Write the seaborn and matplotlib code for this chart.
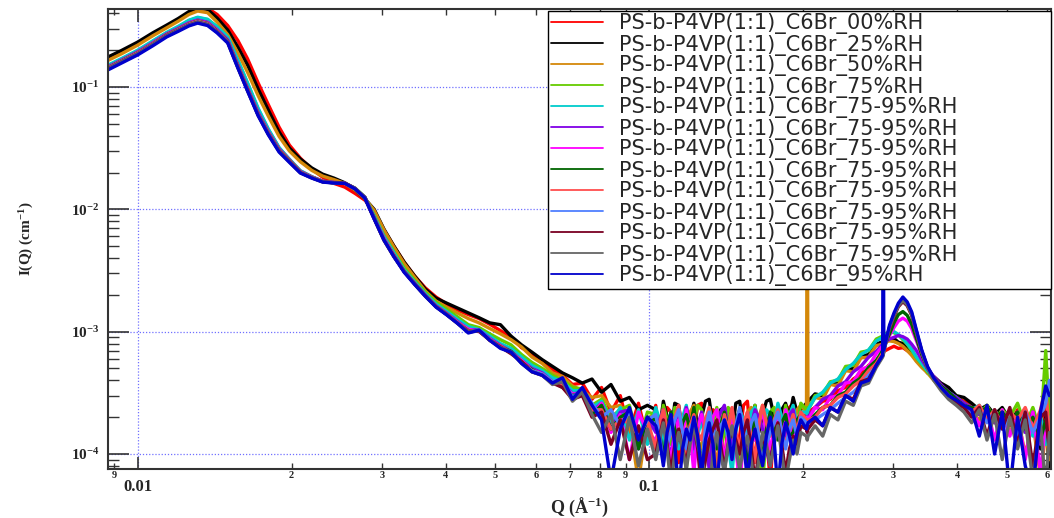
import numpy as np
import pandas as pd
import matplotlib
matplotlib.use("Agg")
import matplotlib.pyplot as plt
import matplotlib.ticker as mticker
from matplotlib.lines import Line2D
import seaborn as sns

# ---------------- data ----------------
q_lo = [0.00875, 0.0093, 0.0100, 0.0107, 0.0114, 0.0120, 0.0126, 0.0131, 0.0137, 0.0143,
        0.0150, 0.0157, 0.0164, 0.0172, 0.0180, 0.0189, 0.0198, 0.0208, 0.0219, 0.0230,
        0.0242, 0.0254, 0.0266, 0.0278, 0.0290, 0.0303, 0.0317, 0.0332, 0.0348, 0.0365,
        0.0383, 0.0402]
q_mid = [0.0422, 0.0443, 0.0465, 0.0488, 0.0512, 0.0537, 0.0563, 0.0590, 0.0618, 0.0647,
         0.0677, 0.0708, 0.0740, 0.0773, 0.0807, 0.0842, 0.0878, 0.0915, 0.0953, 0.0992]
q_flat = [0.1030, 0.1048, 0.1066, 0.1084, 0.1103, 0.1122, 0.1142, 0.1162, 0.1182, 0.1202,
          0.1223, 0.1244, 0.1266, 0.1288, 0.1310, 0.1333, 0.1356, 0.1379, 0.1403, 0.1427,
          0.1452, 0.1477, 0.1503, 0.1529, 0.1556, 0.1583, 0.1610, 0.1638, 0.1666, 0.1695,
          0.1725, 0.1755, 0.1785, 0.1816, 0.1848, 0.1880, 0.1912, 0.1945, 0.1979]
q_peak = [0.2030, 0.2037, 0.2044,
          0.2110, 0.2184, 0.2260, 0.2339, 0.2421, 0.2506, 0.2594, 0.2685, 0.2779, 0.2860, 0.2868, 0.2876,
          0.2950, 0.3010, 0.3070, 0.3133, 0.3195, 0.3260, 0.3330, 0.3410, 0.3500, 0.3600, 0.3720, 0.3850, 0.3985, 0.4125,
          0.4270, 0.4420, 0.4575, 0.4735, 0.4900, 0.5070, 0.5250, 0.5435, 0.5625, 0.5820, 0.5960, 0.6060]
Q = q_lo + q_mid + q_flat + q_peak

rh_00 = [0.168, 0.190, 0.224, 0.266, 0.310, 0.352, 0.400, 0.432, 0.440, 0.392, 0.318, 0.240, 0.170, 0.108, 0.072, 0.047,
         0.0335, 0.0262, 0.0213, 0.0183, 0.0163, 0.0152, 0.0135, 0.0119, 0.0097, 0.0068, 0.0050, 0.0037, 0.00285, 0.00228, 0.00192, 0.00168,
         1.50e-3, 1.38e-3, 1.28e-3, 1.15e-3, 1.02e-3, 9.0e-4, 7.4e-4, 6.6e-4, 5.6e-4, 4.9e-4, 4.4e-4, 3.7e-4, 3.8e-4, 2.8e-4, 3.5e-4, 2.2e-4, 3.0e-4, 1.5e-4, 2.6e-4, 1.3e-4,
         2.5e-4, 1.1e-4, 1.4e-4, 2.4e-4, 2.2e-4, 1.3e-4, 8.5e-5, 1.9e-4, 2.4e-4, 1.2e-4, 1.5e-4, 2.5e-4, 2.6e-4, 1.0e-4, 1.2e-4, 2.3e-4, 2.1e-4, 1.6e-4, 8.0e-5, 1.9e-4,
         2.3e-4, 1.1e-4, 1.4e-4, 2.5e-4, 2.7e-4, 1.3e-4, 9.0e-5, 2.0e-4, 2.2e-4, 1.4e-4, 6.0e-5, 1.7e-4, 2.4e-4, 1.3e-4, 1.6e-4, 2.4e-4, 2.6e-4, 1.5e-4, 2.0e-4,
         2.1e-4, 2.0e-4, 2.2e-4,
         2.4e-4, 2.7e-4, 2.8e-4, 3.3e-4, 3.5e-4, 4.1e-4, 4.5e-4, 5.3e-4, 5.8e-4, 6.7e-4, 6.6e-4, 6.9e-4,
         7.3e-4, 7.6e-4, 7.3e-4, 7.4e-4, 7.0e-4, 6.7e-4, 5.9e-4, 5.4e-4, 4.7e-4, 4.2e-4, 3.6e-4, 3.3e-4, 2.9e-4, 2.7e-4,
         2.5e-4, 2.1e-4, 2.4e-4, 1.9e-4, 2.2e-4, 1.7e-4, 2.3e-4, 1.6e-4, 2.1e-4, 1.3e-4, 2.4e-4, 1.5e-4]
rh_25 = [0.176, 0.199, 0.233, 0.277, 0.321, 0.363, 0.414, 0.443, 0.431, 0.366, 0.292, 0.212, 0.151, 0.0963, 0.0649, 0.0429,
         0.0317, 0.0258, 0.0218, 0.0194, 0.0180, 0.0165, 0.0144, 0.0122, 0.0100, 0.0069, 0.0050, 0.0037, 0.00285, 0.00223, 0.00188, 0.00171,
         1.56e-3, 1.42e-3, 1.30e-3, 1.18e-3, 1.14e-3, 9.2e-4, 7.8e-4, 6.8e-4, 5.9e-4, 5.2e-4, 4.6e-4, 4.2e-4, 3.8e-4, 4.1e-4, 3.2e-4, 3.7e-4, 2.7e-4, 2.9e-4, 2.3e-4, 2.5e-4,
         2.3e-4, 1.6e-4, 2.7e-4, 2.0e-4, 1.4e-4, 2.6e-4, 2.5e-4, 1.5e-4, 9.0e-5, 1.9e-4, 2.6e-4, 1.6e-4, 2.0e-4, 2.7e-4, 2.8e-4, 1.7e-4, 1.2e-4, 2.3e-4, 2.4e-4, 1.3e-4,
         1.5e-4, 2.6e-4, 2.7e-4, 1.6e-4, 8.5e-5, 2.0e-4, 2.5e-4, 1.5e-4, 2.1e-4, 2.7e-4, 2.8e-4, 2.0e-4, 1.4e-4, 2.3e-4, 2.6e-4, 2.0e-4, 2.9e-4, 2.2e-4, 2.3e-4,
         2.6e-4, 2.5e-4, 2.7e-4,
         3.1e-4, 3.0e-4, 3.8e-4, 3.9e-4, 4.9e-4, 5.0e-4, 6.3e-4, 6.5e-4, 7.9e-4, 8.3e-4, 8.2e-4, 8.5e-4,
         8.6e-4, 8.8e-4, 8.2e-4, 8.0e-4, 7.2e-4, 6.7e-4, 5.8e-4, 5.4e-4, 4.6e-4, 4.3e-4, 3.8e-4, 3.5e-4, 3.0e-4, 2.9e-4,
         2.6e-4, 2.3e-4, 2.5e-4, 2.1e-4, 2.4e-4, 1.9e-4, 2.2e-4, 1.6e-4, 2.3e-4, 1.1e-4, 2.0e-4, 7.0e-5]
rh_50 = [0.165, 0.187, 0.220, 0.262, 0.305, 0.345, 0.392, 0.418, 0.405, 0.340, 0.268, 0.190, 0.132, 0.085, 0.058, 0.0395,
         0.0300, 0.0245, 0.0208, 0.0187, 0.0175, 0.0163, 0.0144, 0.0123, 0.0098, 0.0068, 0.0049, 0.0036, 0.00278, 0.00215, 0.00178, 0.00158,
         1.42e-3, 1.28e-3, 1.18e-3, 1.06e-3, 9.6e-4, 8.6e-4, 7.5e-4, 6.2e-4, 5.5e-4, 4.6e-4, 4.3e-4, 3.6e-4, 3.3e-4, 2.9e-4, 3.0e-4, 2.4e-4, 2.5e-4, 1.8e-4, 6.0e-5, 1.9e-4,
         2.2e-4, 1.5e-4, 9.0e-5, 1.6e-4, 5.5e-5, 1.4e-4, 2.3e-4, 1.2e-4, 1.5e-4, 2.2e-4, 2.5e-4, 1.3e-4, 1.1e-4, 1.9e-4, 2.2e-4, 1.2e-4, 8.0e-5, 1.8e-4, 2.4e-4, 1.9e-4,
         1.5e-4, 1.2e-4, 6.0e-5, 1.5e-4, 2.2e-4, 2.4e-4, 1.3e-4, 2.0e-4, 2.5e-4, 1.5e-4, 9.0e-5, 1.7e-4, 2.1e-4, 1.4e-4, 2.4e-4, 2.0e-4, 1.6e-4, 2.3e-4, 2.5e-4,
         2.2e-4, 3.0e-2, 2.3e-4,
         2.9e-4, 2.8e-4, 3.7e-4, 3.6e-4, 4.8e-4, 4.7e-4, 6.1e-4, 6.2e-4, 7.7e-4, 7.9e-4, 8.1e-4, 8.2e-4,
         8.4e-4, 8.3e-4, 8.0e-4, 7.6e-4, 7.0e-4, 6.4e-4, 5.7e-4, 5.1e-4, 4.6e-4, 4.0e-4, 3.5e-4, 3.1e-4, 2.8e-4, 2.4e-4,
         2.2e-4, 1.9e-4, 2.3e-4, 1.8e-4, 2.1e-4, 1.5e-4, 2.0e-4, 1.0e-4, 1.8e-4, 6.5e-5, 1.5e-4, 9.0e-5]
rh_75 = [0.149, 0.169, 0.198, 0.236, 0.277, 0.310, 0.349, 0.369, 0.356, 0.310, 0.254, 0.165, 0.107, 0.066, 0.0450, 0.0318,
         0.0255, 0.0206, 0.0184, 0.0169, 0.0165, 0.0164, 0.0149, 0.0126, 0.0089, 0.0061, 0.0045, 0.0033, 0.00262, 0.00210, 0.00174, 0.00152,
         1.32e-3, 1.14e-3, 1.08e-3, 9.6e-4, 8.6e-4, 7.8e-4, 6.5e-4, 5.6e-4, 5.0e-4, 4.4e-4, 4.0e-4, 3.5e-4, 3.4e-4, 2.5e-4, 2.8e-4, 2.0e-4, 2.3e-4, 2.5e-4, 1.2e-4, 2.2e-4,
         2.1e-4, 1.4e-4, 2.5e-4, 1.9e-4, 1.2e-4, 2.4e-4, 2.2e-4, 1.3e-4, 7.5e-5, 1.6e-4, 1.8e-4, 2.5e-4, 2.3e-4, 1.5e-4, 9.0e-5, 1.8e-4, 2.4e-4, 1.1e-4, 1.5e-4, 2.4e-4,
         2.2e-4, 1.4e-4, 8.0e-5, 1.7e-4, 2.1e-4, 1.6e-4, 2.5e-4, 1.2e-4, 5.5e-5, 1.6e-4, 2.2e-4, 2.4e-4, 1.5e-4, 1.2e-4, 2.5e-4, 1.7e-4, 2.1e-4, 1.6e-4, 2.6e-4,
         2.3e-4, 2.4e-4, 2.3e-4,
         3.0e-4, 3.1e-4, 3.9e-4, 4.0e-4, 5.2e-4, 5.3e-4, 6.8e-4, 7.0e-4, 8.7e-4, 9.2e-4, 9.2e-4, 9.5e-4,
         1.0e-3, 9.8e-4, 9.4e-4, 8.6e-4, 7.9e-4, 7.0e-4, 6.1e-4, 5.4e-4, 4.7e-4, 4.1e-4, 3.6e-4, 3.2e-4, 2.9e-4, 2.6e-4,
         2.4e-4, 2.1e-4, 2.5e-4, 1.9e-4, 2.3e-4, 2.0e-4, 2.6e-4, 1.7e-4, 2.4e-4, 1.5e-4, 7.0e-4, 2.0e-4]
rh_m1 = [0.151, 0.171, 0.200, 0.238, 0.280, 0.313, 0.352, 0.372, 0.358, 0.312, 0.256, 0.166, 0.108, 0.067, 0.0455, 0.0320,
         0.0257, 0.0207, 0.0185, 0.0170, 0.0165, 0.0164, 0.0149, 0.0126, 0.0088, 0.0060, 0.0044, 0.0032, 0.00255, 0.00204, 0.00168, 0.00146,
         1.26e-3, 1.10e-3, 1.04e-3, 9.2e-4, 8.0e-4, 7.3e-4, 6.2e-4, 5.3e-4, 4.8e-4, 4.2e-4, 3.9e-4, 3.3e-4, 3.3e-4, 2.4e-4, 2.7e-4, 1.8e-4, 2.4e-4, 1.3e-4, 2.3e-4, 1.2e-4,
         2.4e-4, 1.9e-4, 1.3e-4, 1.0e-4, 2.2e-4, 1.6e-4, 1.1e-4, 2.0e-4, 2.5e-4, 1.5e-4, 8.5e-5, 1.4e-4, 1.9e-4, 1.3e-4, 2.4e-4, 1.8e-4, 1.2e-4, 1.7e-4, 2.2e-4, 1.2e-4,
         7.0e-5, 1.5e-4, 2.3e-4, 1.9e-4, 1.4e-4, 2.2e-4, 2.4e-4, 1.3e-4, 1.1e-4, 2.3e-4, 2.1e-4, 1.7e-4, 2.6e-4, 2.0e-4, 1.4e-4, 2.1e-4, 2.5e-4, 1.7e-4, 2.2e-4,
         2.2e-4, 2.1e-4, 2.3e-4,
         2.9e-4, 3.2e-4, 3.8e-4, 4.1e-4, 4.9e-4, 5.5e-4, 6.5e-4, 7.1e-4, 8.4e-4, 9.0e-4, 9.3e-4, 9.4e-4,
         9.8e-4, 1.0e-3, 9.5e-4, 8.8e-4, 8.0e-4, 7.2e-4, 6.2e-4, 5.5e-4, 4.8e-4, 4.2e-4, 3.6e-4, 3.2e-4, 2.9e-4, 2.6e-4,
         2.3e-4, 2.5e-4, 2.0e-4, 2.3e-4, 1.8e-4, 2.2e-4, 1.6e-4, 2.3e-4, 1.4e-4, 2.1e-4, 1.2e-4, 2.0e-4]
rh_m2 = [0.146, 0.166, 0.194, 0.230, 0.272, 0.302, 0.335, 0.353, 0.338, 0.294, 0.243, 0.152, 0.098, 0.062, 0.0432, 0.0311,
         0.0253, 0.0204, 0.0184, 0.0170, 0.0166, 0.0164, 0.0148, 0.0125, 0.0085, 0.0058, 0.0042, 0.0031, 0.00248, 0.00199, 0.00163, 0.00141,
         1.21e-3, 1.04e-3, 1.03e-3, 8.8e-4, 7.7e-4, 6.9e-4, 5.8e-4, 5.0e-4, 4.6e-4, 3.9e-4, 3.8e-4, 3.1e-4, 3.2e-4, 2.2e-4, 2.6e-4, 1.6e-4, 2.2e-4, 2.3e-4, 1.1e-4, 2.0e-4,
         1.5e-4, 1.9e-4, 2.3e-4, 1.4e-4, 9.0e-5, 1.6e-4, 2.1e-4, 1.5e-4, 2.4e-4, 1.8e-4, 1.1e-4, 1.7e-4, 2.2e-4, 1.4e-4, 7.5e-5, 1.5e-4, 1.8e-4, 2.2e-4, 2.5e-4, 1.6e-4,
         1.2e-4, 1.9e-4, 2.1e-4, 1.4e-4, 9.0e-5, 1.7e-4, 2.3e-4, 2.0e-4, 1.6e-4, 1.1e-4, 8.0e-5, 1.7e-4, 2.2e-4, 1.5e-4, 1.4e-4, 2.1e-4, 2.3e-4, 1.5e-4, 2.0e-4,
         2.0e-4, 1.9e-4, 2.0e-4,
         2.4e-4, 2.8e-4, 3.0e-4, 3.6e-4, 3.9e-4, 4.7e-4, 5.2e-4, 6.2e-4, 6.9e-4, 7.9e-4, 7.8e-4, 8.1e-4,
         8.7e-4, 9.0e-4, 9.3e-4, 9.1e-4, 8.7e-4, 7.9e-4, 7.0e-4, 5.9e-4, 5.0e-4, 4.3e-4, 3.7e-4, 3.2e-4, 2.9e-4, 2.6e-4,
         2.4e-4, 2.1e-4, 2.3e-4, 1.8e-4, 2.2e-4, 1.9e-4, 2.1e-4, 1.5e-4, 2.2e-4, 1.2e-4, 1.9e-4, 1.4e-4]
rh_m3 = [0.145, 0.165, 0.192, 0.228, 0.270, 0.299, 0.332, 0.350, 0.334, 0.291, 0.240, 0.150, 0.097, 0.061, 0.0429, 0.0309,
         0.0252, 0.0203, 0.0183, 0.0169, 0.0165, 0.0164, 0.0148, 0.0125, 0.0085, 0.0058, 0.0042, 0.0031, 0.00248, 0.00198, 0.00162, 0.00140,
         1.19e-3, 1.05e-3, 1.00e-3, 8.7e-4, 7.6e-4, 6.8e-4, 5.8e-4, 4.9e-4, 4.5e-4, 3.9e-4, 3.6e-4, 3.1e-4, 3.1e-4, 2.1e-4, 2.6e-4, 1.5e-4, 2.1e-4, 9.0e-5, 2.2e-4, 1.5e-4,
         1.3e-4, 1.7e-4, 2.2e-4, 1.3e-4, 8.5e-5, 1.5e-4, 1.9e-4, 1.4e-4, 2.3e-4, 1.5e-4, 7.0e-5, 1.6e-4, 2.1e-4, 1.6e-4, 1.3e-4, 2.0e-4, 2.3e-4, 1.4e-4, 9.0e-5, 1.5e-4,
         1.9e-4, 1.2e-4, 5.0e-5, 1.4e-4, 2.1e-4, 1.7e-4, 1.3e-4, 1.8e-4, 2.2e-4, 1.5e-4, 1.1e-4, 1.6e-4, 1.9e-4, 1.4e-4, 2.3e-4, 1.8e-4, 1.4e-4, 1.9e-4, 2.1e-4,
         1.9e-4, 2.0e-4, 1.9e-4,
         2.4e-4, 2.3e-4, 2.9e-4, 3.0e-4, 3.8e-4, 3.9e-4, 4.9e-4, 5.2e-4, 6.6e-4, 7.6e-4, 7.7e-4, 8.0e-4,
         9.3e-4, 1.08e-3, 1.22e-3, 1.29e-3, 1.22e-3, 1.06e-3, 8.4e-4, 6.4e-4, 5.0e-4, 4.2e-4, 3.6e-4, 3.1e-4, 2.8e-4, 2.5e-4,
         2.4e-4, 1.7e-4, 2.4e-4, 1.3e-4, 2.3e-4, 1.4e-4, 2.2e-4, 9.0e-5, 2.2e-4, 7.0e-5, 1.9e-4, 1.2e-4]
rh_m4 = [0.144, 0.164, 0.191, 0.226, 0.268, 0.297, 0.329, 0.347, 0.331, 0.288, 0.238, 0.149, 0.096, 0.0605, 0.0425, 0.0306,
         0.0251, 0.0202, 0.0183, 0.0169, 0.0165, 0.0164, 0.0148, 0.0125, 0.0085, 0.0057, 0.0042, 0.0031, 0.00247, 0.00198, 0.00161, 0.00139,
         1.18e-3, 1.02e-3, 1.01e-3, 8.6e-4, 7.5e-4, 6.9e-4, 5.6e-4, 4.9e-4, 4.4e-4, 3.9e-4, 3.5e-4, 3.0e-4, 3.2e-4, 2.1e-4, 2.5e-4, 1.6e-4, 2.0e-4, 2.2e-4, 1.1e-4, 2.0e-4,
         1.9e-4, 1.5e-4, 9.0e-5, 1.7e-4, 2.2e-4, 1.6e-4, 1.3e-4, 1.8e-4, 2.1e-4, 1.6e-4, 2.4e-4, 1.4e-4, 8.0e-5, 1.5e-4, 1.9e-4, 1.4e-4, 1.1e-4, 1.7e-4, 2.2e-4, 1.6e-4,
         1.4e-4, 1.9e-4, 2.3e-4, 1.4e-4, 7.5e-5, 1.5e-4, 1.9e-4, 1.4e-4, 9.0e-5, 1.6e-4, 2.2e-4, 1.7e-4, 1.3e-4, 1.8e-4, 2.1e-4, 1.4e-4, 1.5e-4, 1.9e-4, 2.1e-4,
         1.8e-4, 1.9e-4, 1.8e-4,
         2.1e-4, 2.4e-4, 2.5e-4, 3.0e-4, 3.2e-4, 3.8e-4, 4.2e-4, 5.1e-4, 5.8e-4, 7.0e-4, 7.1e-4, 7.5e-4,
         9.6e-4, 1.18e-3, 1.38e-3, 1.46e-3, 1.36e-3, 1.15e-3, 8.8e-4, 6.5e-4, 5.0e-4, 4.2e-4, 3.6e-4, 3.2e-4, 2.8e-4, 2.5e-4,
         2.4e-4, 2.2e-4, 2.4e-4, 2.0e-4, 2.2e-4, 1.8e-4, 2.2e-4, 1.6e-4, 2.0e-4, 1.3e-4, 1.9e-4, 1.2e-4]
rh_m5 = [0.143, 0.163, 0.190, 0.225, 0.266, 0.295, 0.327, 0.345, 0.329, 0.286, 0.236, 0.148, 0.0955, 0.060, 0.0423, 0.0304,
         0.0250, 0.0202, 0.0183, 0.0169, 0.0165, 0.0164, 0.0148, 0.0125, 0.0084, 0.0057, 0.0042, 0.0031, 0.00246, 0.00197, 0.00161, 0.00139,
         1.19e-3, 1.01e-3, 1.02e-3, 8.5e-4, 7.6e-4, 6.7e-4, 5.7e-4, 4.8e-4, 4.5e-4, 3.8e-4, 3.6e-4, 2.9e-4, 3.1e-4, 2.3e-4, 2.3e-4, 1.6e-4, 1.9e-4, 1.8e-4, 1.4e-4, 1.9e-4,
         1.1e-4, 1.8e-4, 2.3e-4, 1.6e-4, 1.4e-4, 2.0e-4, 2.5e-4, 1.4e-4, 9.0e-5, 1.7e-4, 2.1e-4, 1.5e-4, 1.3e-4, 1.9e-4, 2.4e-4, 1.3e-4, 6.0e-5, 1.4e-4, 2.1e-4, 1.6e-4,
         2.4e-4, 1.5e-4, 1.1e-4, 1.8e-4, 2.2e-4, 1.4e-4, 8.5e-5, 1.7e-4, 2.5e-4, 1.8e-4, 1.4e-4, 1.9e-4, 2.3e-4, 1.5e-4, 1.2e-4, 1.6e-4, 2.1e-4, 1.5e-4, 2.2e-4,
         1.9e-4, 1.8e-4, 1.9e-4,
         2.0e-4, 2.4e-4, 2.5e-4, 2.9e-4, 3.1e-4, 3.6e-4, 4.0e-4, 4.8e-4, 5.5e-4, 6.7e-4, 6.8e-4, 7.3e-4,
         1.08e-3, 1.36e-3, 1.63e-3, 1.80e-3, 1.66e-3, 1.38e-3, 9.9e-4, 6.9e-4, 5.1e-4, 4.2e-4, 3.5e-4, 3.0e-4, 2.7e-4, 2.5e-4,
         2.2e-4, 2.5e-4, 1.9e-4, 2.3e-4, 1.7e-4, 2.2e-4, 1.9e-4, 2.4e-4, 1.6e-4, 2.3e-4, 3.5e-4, 1.4e-4]
rh_m6 = [0.142, 0.162, 0.188, 0.223, 0.264, 0.293, 0.324, 0.341, 0.326, 0.283, 0.234, 0.146, 0.094, 0.0595, 0.0418, 0.0301,
         0.0247, 0.0201, 0.0182, 0.0168, 0.0165, 0.0164, 0.0148, 0.0125, 0.0084, 0.0057, 0.0041, 0.0031, 0.00245, 0.00196, 0.00160, 0.00138,
         1.18e-3, 9.9e-4, 1.03e-3, 8.6e-4, 7.4e-4, 6.8e-4, 5.6e-4, 4.8e-4, 4.5e-4, 3.9e-4, 4.1e-4, 2.9e-4, 3.4e-4, 2.6e-4, 2.0e-4, 2.3e-4, 1.7e-4, 2.2e-4, 1.4e-4, 1.9e-4,
         2.1e-4, 1.4e-4, 8.5e-5, 1.2e-4, 1.5e-4, 1.9e-4, 2.3e-4, 1.5e-4, 1.1e-4, 1.6e-4, 1.9e-4, 1.3e-4, 7.5e-5, 1.6e-4, 2.2e-4, 1.6e-4, 1.3e-4, 1.7e-4, 1.9e-4, 1.4e-4,
         9.0e-5, 1.7e-4, 2.4e-4, 1.6e-4, 1.3e-4, 1.8e-4, 2.1e-4, 1.4e-4, 8.5e-5, 1.2e-4, 1.5e-4, 1.8e-4, 2.2e-4, 1.5e-4, 1.1e-4, 1.6e-4, 1.9e-4, 1.4e-4, 2.0e-4,
         1.8e-4, 1.7e-4, 1.8e-4,
         1.9e-4, 2.1e-4, 2.3e-4, 2.6e-4, 2.9e-4, 3.2e-4, 3.7e-4, 4.4e-4, 5.2e-4, 6.3e-4, 6.5e-4, 7.0e-4,
         1.10e-3, 1.38e-3, 1.66e-3, 1.86e-3, 1.70e-3, 1.42e-3, 1.01e-3, 7.0e-4, 5.1e-4, 4.1e-4, 3.4e-4, 2.9e-4, 2.7e-4, 2.4e-4,
         2.1e-4, 2.3e-4, 1.8e-4, 2.2e-4, 1.6e-4, 2.0e-4, 1.4e-4, 2.2e-4, 1.5e-4, 2.0e-4, 2.6e-4, 4.0e-4]
rh_m7 = [0.141, 0.161, 0.187, 0.222, 0.263, 0.291, 0.322, 0.339, 0.324, 0.282, 0.233, 0.145, 0.094, 0.059, 0.0415, 0.0300,
         0.0246, 0.0200, 0.0181, 0.0168, 0.0165, 0.0164, 0.0148, 0.0125, 0.0084, 0.0056, 0.0041, 0.0031, 0.00245, 0.00196, 0.00160, 0.00138,
         1.17e-3, 1.00e-3, 1.01e-3, 8.5e-4, 7.5e-4, 6.6e-4, 5.7e-4, 4.7e-4, 4.4e-4, 3.8e-4, 3.5e-4, 2.8e-4, 3.0e-4, 2.0e-4, 2.2e-4, 1.2e-4, 1.9e-4, 9.0e-5, 1.7e-4, 9.0e-5,
         1.0e-4, 1.4e-4, 1.9e-4, 1.2e-4, 7.0e-5, 1.2e-4, 1.6e-4, 1.1e-4, 8.5e-5, 1.3e-4, 1.8e-4, 1.1e-4, 5.0e-5, 9.0e-5, 1.3e-4, 1.6e-4, 1.9e-4, 1.2e-4, 7.5e-5, 1.2e-4,
         1.6e-4, 1.3e-4, 1.0e-4, 1.5e-4, 1.9e-4, 1.1e-4, 6.0e-5, 1.0e-4, 1.4e-4, 1.1e-4, 8.5e-5, 1.3e-4, 1.8e-4, 1.2e-4, 7.0e-5, 1.1e-4, 1.4e-4, 1.2e-4, 1.7e-4,
         1.6e-4, 1.5e-4, 1.6e-4,
         1.9e-4, 1.7e-4, 2.4e-4, 2.2e-4, 3.0e-4, 2.8e-4, 3.9e-4, 4.1e-4, 5.3e-4, 6.4e-4, 6.6e-4, 7.0e-4,
         1.06e-3, 1.33e-3, 1.60e-3, 1.76e-3, 1.63e-3, 1.36e-3, 9.8e-4, 6.9e-4, 5.1e-4, 4.1e-4, 3.4e-4, 2.9e-4, 2.6e-4, 2.4e-4,
         2.0e-4, 2.4e-4, 1.4e-4, 2.3e-4, 1.6e-4, 2.4e-4, 1.2e-4, 2.2e-4, 8.0e-5, 2.0e-4, 2.2e-4, 1.0e-4]
rh_m8 = [0.140, 0.160, 0.186, 0.221, 0.261, 0.289, 0.320, 0.337, 0.322, 0.280, 0.231, 0.144, 0.093, 0.0588, 0.0412, 0.0298,
         0.0245, 0.0199, 0.0181, 0.0168, 0.0164, 0.0163, 0.0148, 0.0125, 0.0084, 0.0056, 0.0041, 0.0031, 0.00244, 0.00195, 0.00160, 0.00138,
         1.17e-3, 9.9e-4, 1.02e-3, 8.5e-4, 7.4e-4, 6.8e-4, 5.5e-4, 4.7e-4, 4.4e-4, 3.7e-4, 3.9e-4, 2.7e-4, 3.2e-4, 2.1e-4, 1.5e-4, 2.1e-4, 9.0e-5, 2.0e-4, 8.0e-5, 1.6e-4,
         9.0e-5, 1.3e-4, 1.8e-4, 1.1e-4, 5.5e-5, 1.0e-4, 1.5e-4, 1.1e-4, 7.5e-5, 1.2e-4, 1.7e-4, 1.2e-4, 9.0e-5, 7.0e-5, 5.0e-5, 1.0e-4, 1.5e-4, 1.0e-4, 7.0e-5, 1.2e-4,
         1.7e-4, 1.1e-4, 7.5e-5, 1.1e-4, 1.4e-4, 9.0e-5, 5.0e-5, 9.0e-5, 1.5e-4, 1.2e-4, 8.0e-5, 1.2e-4, 1.7e-4, 1.0e-4, 6.0e-5, 9.0e-5, 1.3e-4, 1.0e-4, 1.5e-4,
         1.4e-4, 1.3e-4, 1.4e-4,
         1.7e-4, 1.4e-4, 2.1e-4, 1.9e-4, 2.7e-4, 2.5e-4, 3.6e-4, 3.8e-4, 5.1e-4, 6.2e-4, 6.4e-4, 6.9e-4,
         1.09e-3, 1.36e-3, 1.63e-3, 1.80e-3, 1.66e-3, 1.39e-3, 9.9e-4, 6.9e-4, 5.0e-4, 4.0e-4, 3.3e-4, 2.8e-4, 2.5e-4, 2.2e-4,
         1.8e-4, 2.3e-4, 1.3e-4, 2.1e-4, 9.0e-5, 2.0e-4, 1.1e-4, 1.9e-4, 6.0e-5, 1.8e-4, 5.0e-5, 1.5e-4]
rh_95 = [0.138, 0.157, 0.183, 0.217, 0.257, 0.285, 0.316, 0.333, 0.318, 0.277, 0.229, 0.143, 0.0927, 0.0582, 0.0408, 0.0294,
         0.0242, 0.0198, 0.0180, 0.0167, 0.0164, 0.0163, 0.0147, 0.0124, 0.00834, 0.00561, 0.0041, 0.00305, 0.00243, 0.00195, 0.00159, 0.00137,
         1.17e-3, 9.75e-4, 1.03e-3, 8.5e-4, 7.3e-4, 6.8e-4, 5.5e-4, 4.7e-4, 4.4e-4, 3.8e-4, 4.2e-4, 2.8e-4, 3.5e-4, 2.5e-4, 1.9e-4, 6.0e-5, 1.6e-4, 2.4e-4, 1.3e-4, 2.0e-4,
         1.7e-4, 1.3e-4, 8.0e-5, 1.5e-4, 2.1e-4, 1.2e-4, 5.0e-5, 1.1e-4, 1.6e-4, 1.3e-4, 2.0e-4, 1.4e-4, 7.0e-5, 1.3e-4, 1.8e-4, 1.2e-4, 5.0e-5, 1.3e-4, 1.9e-4, 1.5e-4,
         9.0e-5, 1.6e-4, 2.1e-4, 1.3e-4, 6.0e-5, 1.2e-4, 1.6e-4, 1.1e-4, 8.0e-5, 1.4e-4, 2.0e-4, 1.3e-4, 5.0e-5, 1.2e-4, 1.8e-4, 1.4e-4, 1.0e-4, 1.5e-4, 1.9e-4,
         1.6e-4, 1.7e-4, 1.8e-4,
         2.0e-4, 1.7e-4, 2.4e-4, 2.2e-4, 3.0e-4, 2.7e-4, 3.8e-4, 4.0e-4, 5.3e-4, 6.4e-4, 2.0e-2, 7.1e-4,
         1.13e-3, 1.42e-3, 1.71e-3, 1.92e-3, 1.75e-3, 1.45e-3, 1.03e-3, 7.1e-4, 5.2e-4, 4.2e-4, 3.5e-4, 3.0e-4, 2.75e-4, 2.5e-4,
         2.3e-4, 1.4e-4, 2.5e-4, 1.0e-4, 2.2e-4, 5.0e-5, 2.0e-4, 8.0e-5, 5.0e-5, 2.2e-4, 3.6e-4, 3.0e-4]

series_labels = ["PS-b-P4VP(1:1)_C6Br_00%RH", "PS-b-P4VP(1:1)_C6Br_25%RH",
                 "PS-b-P4VP(1:1)_C6Br_50%RH", "PS-b-P4VP(1:1)_C6Br_75%RH"] + \
                ["PS-b-P4VP(1:1)_C6Br_75-95%RH"] * 8 + ["PS-b-P4VP(1:1)_C6Br_95%RH"]
series_values = [rh_00, rh_25, rh_50, rh_75, rh_m1, rh_m2, rh_m3, rh_m4,
                 rh_m5, rh_m6, rh_m7, rh_m8, rh_95]
colors = ["#ff0000", "#000000", "#d4880a", "#66cc00", "#00cccc", "#8000e6", "#ff00ff",
          "#006400", "#ff4d4d", "#4f7fff", "#7a0022", "#666666", "#0000cc"]

for s in series_values:
    assert len(s) == len(Q), len(s)

ids = [f"s{k:02d}" for k in range(len(series_values))]
df = pd.DataFrame({
    "Q": np.tile(np.array(Q), len(series_values)),
    "I": np.concatenate([np.array(s) for s in series_values]),
    "sid": np.repeat(ids, len(Q)),
})

# ---------------- style ----------------
sns.set_theme(style="white")
plt.rcParams["font.family"] = ["Liberation Serif", "DejaVu Serif"]
plt.rcParams["font.weight"] = "bold"
plt.rcParams["mathtext.fontset"] = "custom"
plt.rcParams["mathtext.rm"] = "Liberation Serif:bold"
plt.rcParams["mathtext.bf"] = "Liberation Serif:bold"
plt.rcParams["mathtext.it"] = "Liberation Serif:bold:italic"

W, H = 1054, 518
AX_L, AX_R, AX_T, AX_B = 108, 1051, 9, 469
fig = plt.figure(figsize=(W / 100, H / 100), dpi=100)
ax = fig.add_axes([AX_L / W, (H - AX_B) / H, (AX_R - AX_L) / W, (AX_B - AX_T) / H])

sns.lineplot(data=df, x="Q", y="I", hue="sid", hue_order=ids,
             palette=dict(zip(ids, colors)), estimator=None, sort=False,
             linewidth=2.4, legend=False, ax=ax)

ax.set_xscale("log")
ax.set_yscale("log")
ax.set_xlim(0.00875, 0.6103)
ax.set_ylim(7.54e-5, 0.4343)

# ticks
ax.xaxis.set_major_locator(mticker.LogLocator(base=10, numticks=10))
ax.xaxis.set_minor_locator(mticker.LogLocator(base=10, subs=np.arange(2, 10), numticks=50))
ax.xaxis.set_major_formatter(mticker.FuncFormatter(lambda v, p: f"{v:g}"))
ax.xaxis.set_minor_formatter(mticker.FuncFormatter(
    lambda v, p: str(int(round(v / 10 ** np.floor(np.log10(v) + 1e-9))))))
ax.yaxis.set_major_locator(mticker.LogLocator(base=10, numticks=10))
ax.yaxis.set_minor_locator(mticker.LogLocator(base=10, subs=np.arange(2, 10), numticks=50))
ax.yaxis.set_major_formatter(mticker.FuncFormatter(
    lambda v, p: r"$\mathbf{10^{%d}}$" % int(round(np.log10(v)))))
ax.yaxis.set_minor_formatter(mticker.NullFormatter())

tick_col = "#333333"
ax.tick_params(axis="x", which="major", direction="in", length=9, width=1.2, pad=7,
               labelsize=12, bottom=True, top=True, color=tick_col)
ax.tick_params(axis="x", which="minor", direction="in", length=4, width=1.0, pad=1.5,
               labelsize=7.5, bottom=True, top=True, color=tick_col)
ax.tick_params(axis="y", which="major", direction="in", length=15, width=1.2, pad=6,
               labelsize=11, left=True, right=True, color=tick_col)
ax.tick_params(axis="y", which="minor", direction="in", length=8, width=1.0,
               left=True, right=True, color=tick_col)

ax.grid(True, which="major", color="#7070ff", linestyle=(0, (1, 1.5)), linewidth=0.9)
ax.grid(False, which="minor")
for sp in ax.spines.values():
    sp.set_color("#333333")
    sp.set_linewidth(1.5)
    sp.set_visible(True)

ax.set_xlabel(r"Q (Å$^{\mathbf{-1}}$)", fontsize=13, fontweight="bold")
ax.set_ylabel(r"I(Q) (cm$^{\mathbf{-1}}$)", fontsize=11, fontweight="bold")
ax.xaxis.label.set_verticalalignment("center")
ax.yaxis.label.set_verticalalignment("center")
ax.xaxis.set_label_coords(0.5, (AX_B - 507) / (AX_B - AX_T))
ax.yaxis.set_label_coords((27 - AX_L) / (AX_R - AX_L), 0.5)

# legend box spans x = 548..1051 px, top at y = 11 px
lx0 = (548 - AX_L) / (AX_R - AX_L)
ltop = (AX_B - 11) / (AX_B - AX_T)
handles = [Line2D([], [], color=c, lw=1.3) for c in colors]
leg = ax.legend(handles, series_labels, loc="upper left",
                bbox_to_anchor=(lx0, 0.0, 1.0 - lx0, ltop), mode="expand",
                borderaxespad=0.0,
                prop={"family": "DejaVu Sans", "weight": "normal", "size": 15},
                frameon=True, fancybox=False, framealpha=1, edgecolor="black",
                handlelength=2.5, handletextpad=0.8, labelspacing=0.0, borderpad=0.12)
leg.get_frame().set_linewidth(1.0)

fig.savefig("out.png", dpi=100)
